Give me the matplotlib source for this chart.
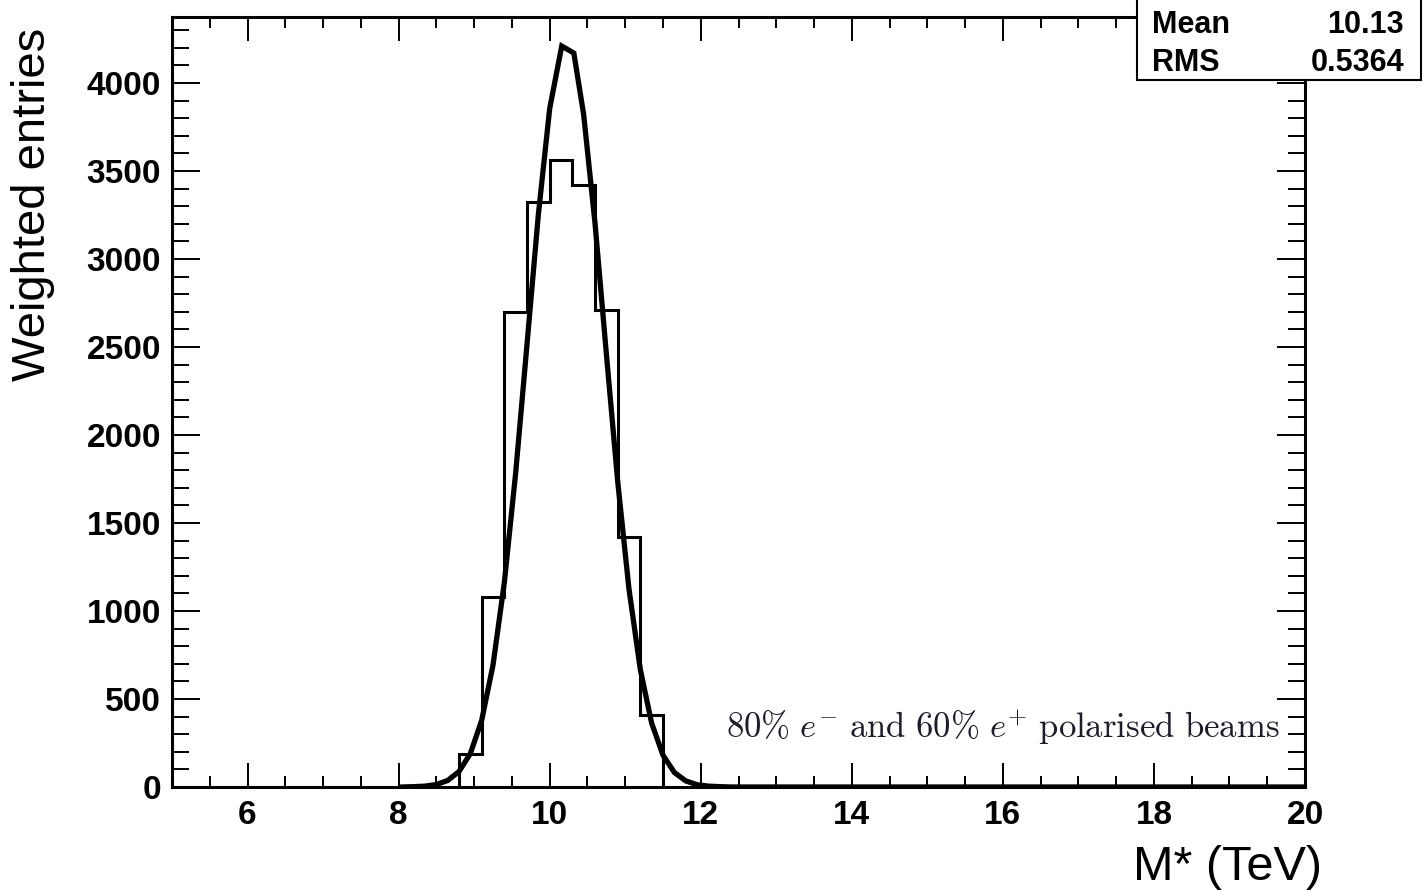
import numpy as np
import matplotlib
matplotlib.use("Agg")
from matplotlib import pyplot as plt
from matplotlib.patches import Rectangle
from matplotlib.ticker import MultipleLocator

plt.rcParams['font.family'] = ['Liberation Sans', 'DejaVu Sans']
plt.rcParams['mathtext.fontset'] = 'cm'

# histogram bins (TeV) and weighted entries
bin_edges = [8.8, 9.1, 9.4, 9.7, 10.0, 10.3, 10.6, 10.9, 11.2, 11.5]
bin_counts = [187, 1079, 2699, 3324, 3562, 3420, 2710, 1420, 409]

# fitted curve vertices
fit_x = [8.05, 8.2, 8.35, 8.5, 8.65, 8.8, 8.95, 9.1, 9.25, 9.4, 9.55, 9.7, 9.85,
         10.0, 10.16, 10.32, 10.45, 10.6, 10.75, 10.9, 11.05, 11.2, 11.35, 11.5,
         11.65, 11.8, 11.95, 12.1, 12.25, 12.4, 20.0]
fit_y = [0, 2, 5, 14, 37, 88, 190, 379, 693, 1162, 1785, 2515, 3251,
         3854, 4210, 4170, 3821, 3205, 2465, 1739, 1125, 668, 363, 181,
         83, 35, 13, 5, 2, 0, 0]

stat_names = ["Mean", "RMS"]
stat_values = ["10.13", "0.5364"]

W, H = 1424, 890
fig = plt.figure(figsize=(W / 100, H / 100), dpi=100)
ax = fig.add_axes([172 / W, 1 - 787 / H, (1305 - 172) / W, (787 - 17) / H])

ax.stairs(bin_counts, bin_edges, baseline=0, fill=False, color='black', lw=2.2, zorder=3)
ax.plot(fit_x, fit_y, color='black', lw=3.8, solid_joinstyle='miter', zorder=4)

ax.set_xlim(5, 20)
ax.set_ylim(0, 4375)
ax.xaxis.set_major_locator(MultipleLocator(2))
ax.xaxis.set_minor_locator(MultipleLocator(0.5))
ax.yaxis.set_major_locator(MultipleLocator(500))
ax.yaxis.set_minor_locator(MultipleLocator(100))

ax.tick_params(which='both', direction='in', top=True, right=True, width=1.4, colors='black')
ax.tick_params(axis='x', which='major', length=17, pad=9)
ax.tick_params(axis='x', which='minor', length=8)
ax.tick_params(axis='y', which='major', length=20, pad=8)
ax.tick_params(axis='y', which='minor', length=12)
for lab in ax.get_xticklabels() + ax.get_yticklabels():
    lab.set_fontweight('bold')
    lab.set_fontsize(24)
for sp in ax.spines.values():
    sp.set_linewidth(2.2)

fig.text(33 / W, 1 - 28 / H, "Weighted entries", rotation=90, ha='center', va='top', fontsize=34)
fig.text(1322 / W, 1 - 880 / H, "M* (TeV)", ha='right', va='baseline', fontsize=35)

fig.text(726 / W, 1 - 738 / H,
         r"$\mathrm{80\%\ }e^{-}\mathrm{\ and\ 60\%\ }e^{+}\mathrm{\ polarised\ beams}$",
         ha='left', va='baseline', fontsize=25, color='#1c1c2a')

# stats box in the top right corner
fig.add_artist(Rectangle((1137 / W, 1 - 80 / H), (1421 - 1137) / W, 100 / H,
                         transform=fig.transFigure, facecolor='white', edgecolor='black',
                         lw=1.5, zorder=5))
for i, (name, val) in enumerate(zip(stat_names, stat_values)):
    yb = 1 - (33 + 38 * i) / H
    fig.text(1152 / W, yb, name, ha='left', va='baseline', fontsize=22, fontweight='bold', zorder=6)
    fig.text(1404 / W, yb, val, ha='right', va='baseline', fontsize=22, fontweight='bold', zorder=6)

fig.savefig("out.png", dpi=100)
